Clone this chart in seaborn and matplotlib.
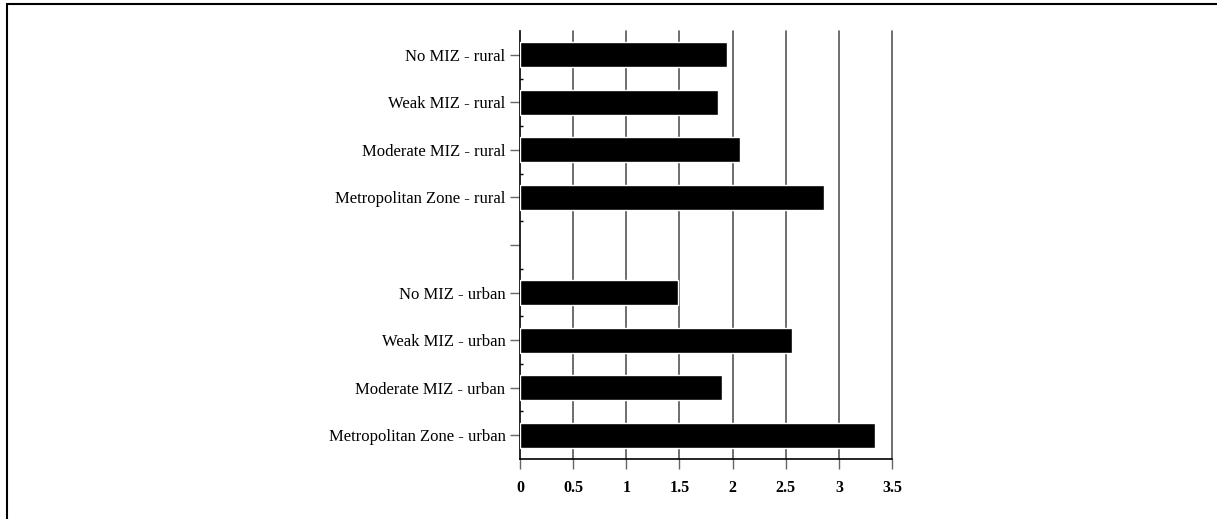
import matplotlib
matplotlib.use("Agg")
import matplotlib.pyplot as plt
import seaborn as sns
import pandas as pd
import numpy as np
from matplotlib.lines import Line2D
from matplotlib.ticker import FixedLocator

categories = [
    "No MIZ - rural",
    "Weak MIZ - rural",
    "Moderate MIZ - rural",
    "Metropolitan Zone - rural",
    " ",
    "No MIZ - urban",
    "Weak MIZ - urban",
    "Moderate MIZ - urban",
    "Metropolitan Zone - urban",
]
values = [1.95, 1.86, 2.07, 2.86, np.nan, 1.49, 2.56, 1.90, 3.34]
x_ticks = [0, 0.5, 1, 1.5, 2, 2.5, 3, 3.5]
x_tick_labels = ["0", "0.5", "1", "1.5", "2", "2.5", "3", "3.5"]

sns.set_style("white")
plt.rcParams["font.family"] = ["Liberation Serif", "DejaVu Serif"]

df = pd.DataFrame({"cat": categories, "val": values})

fig = plt.figure(figsize=(12.17, 5.19), dpi=100)
ax = fig.add_axes([520 / 1217, 1 - 459 / 519, (892 - 520) / 1217, (459 - 31) / 519])

sns.barplot(data=df.dropna(), y="cat", x="val", order=categories, orient="h",
            color="black", saturation=1, width=0.53, ax=ax, zorder=3)

ax.set_xlim(0, 3.5)
ax.set_ylim(8.5, -0.5)
ax.set_xlabel("")
ax.set_ylabel("")

ax.set_xticks(x_ticks)
ax.set_xticklabels(x_tick_labels, fontweight="bold", fontsize=11.5)
ax.set_yticks(range(len(categories)))
ax.set_yticklabels(categories, fontsize=12)
ax.yaxis.set_minor_locator(FixedLocator(np.arange(0.5, 8.0, 1.0)))

for xv in x_ticks[1:]:
    ax.axvline(xv, color="#555555", lw=1.2, zorder=1, clip_on=False)

for side in ["top", "right"]:
    ax.spines[side].set_visible(False)
for side in ["left", "bottom"]:
    ax.spines[side].set_color("black")
    ax.spines[side].set_linewidth(1.2)

ax.tick_params(axis="y", which="major", direction="out", length=7, width=1,
               color="#666666", pad=3.5, left=True, labelcolor="black")
ax.tick_params(axis="y", which="minor", direction="in", length=2.5, width=1,
               color="black", left=True)
ax.tick_params(axis="x", which="major", direction="out", length=7, width=1,
               color="#666666", pad=8, bottom=True, labelcolor="black")

# figure frame (top and left edges)
fig.add_artist(Line2D([7 / 1217, 1.0], [1 - 4 / 519, 1 - 4 / 519],
                      transform=fig.transFigure, color="black", lw=1.5))
fig.add_artist(Line2D([7 / 1217, 7 / 1217], [0.0, 1 - 4 / 519],
                      transform=fig.transFigure, color="black", lw=1.5))

fig.savefig("out.png", dpi=100)
